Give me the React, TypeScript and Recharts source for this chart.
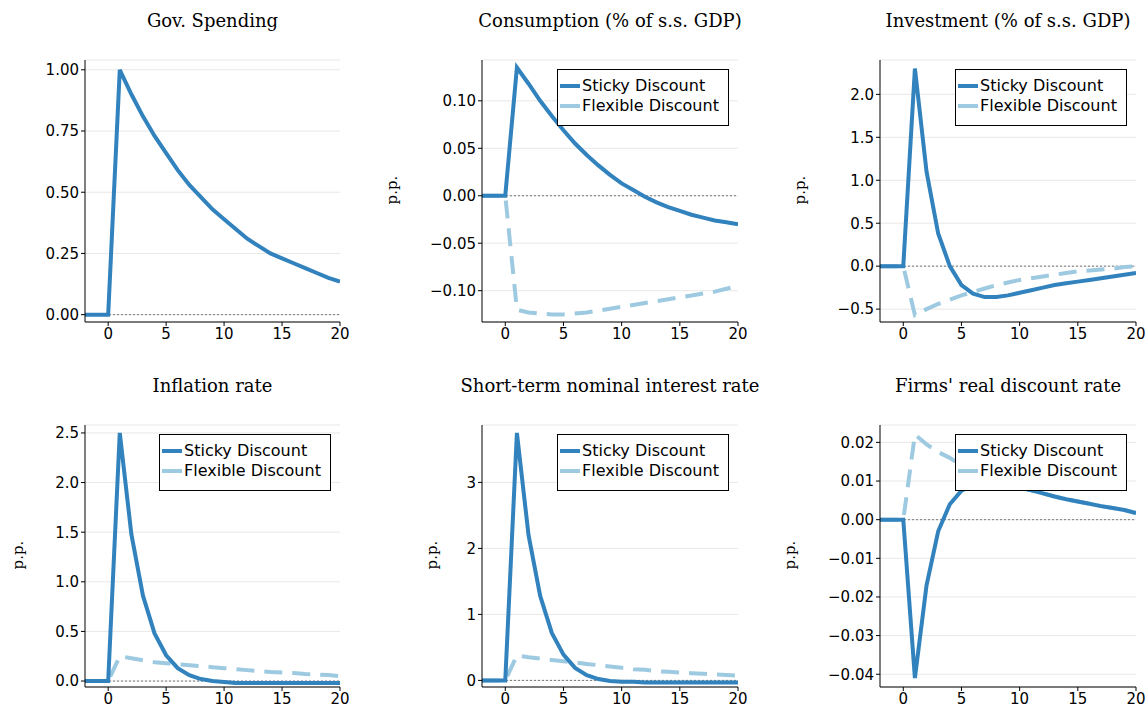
import React from "react";
import { LineChart, Line, XAxis, YAxis, CartesianGrid, ReferenceLine } from "recharts";

const periods = [-2, -1, 0, 1, 2, 3, 4, 5, 6, 7, 8, 9, 10, 11, 12, 13, 14, 15, 16, 17, 18, 19, 20];

const govSticky = [0, 0, 0, 1, 0.9, 0.81, 0.73, 0.66, 0.59, 0.53, 0.48, 0.43, 0.39, 0.35, 0.31, 0.28, 0.25, 0.23, 0.21, 0.19, 0.17, 0.15, 0.135];

const consSticky = [0, 0, 0, 0.135, 0.118, 0.1, 0.084, 0.069, 0.055, 0.043, 0.032, 0.022, 0.013, 0.006, -0.001, -0.007, -0.012, -0.016, -0.02, -0.023, -0.026, -0.028, -0.03];
const consFlex = [0, 0, 0, -0.12, -0.123, -0.124, -0.125, -0.125, -0.124, -0.123, -0.121, -0.119, -0.117, -0.115, -0.113, -0.111, -0.109, -0.107, -0.105, -0.103, -0.101, -0.098, -0.095];

const invSticky = [0, 0, 0, 2.3, 1.1, 0.38, 0.0, -0.22, -0.32, -0.36, -0.36, -0.34, -0.31, -0.28, -0.25, -0.22, -0.2, -0.18, -0.16, -0.14, -0.12, -0.1, -0.08];
const invFlex = [0, 0, 0, -0.57, -0.5, -0.44, -0.39, -0.34, -0.3, -0.26, -0.22, -0.19, -0.16, -0.14, -0.12, -0.1, -0.08, -0.06, -0.05, -0.04, -0.03, -0.01, 0.0];

const inflSticky = [0, 0, 0, 2.5, 1.48, 0.86, 0.48, 0.26, 0.13, 0.06, 0.02, 0, -0.01, -0.02, -0.02, -0.02, -0.02, -0.02, -0.02, -0.02, -0.02, -0.02, -0.02];
const inflFlex = [0, 0, 0, 0.25, 0.23, 0.21, 0.19, 0.18, 0.17, 0.16, 0.15, 0.14, 0.13, 0.12, 0.11, 0.1, 0.09, 0.085, 0.08, 0.07, 0.065, 0.06, 0.05];

const rateSticky = [0, 0, 0, 3.75, 2.2, 1.28, 0.72, 0.39, 0.19, 0.08, 0.02, -0.01, -0.02, -0.02, -0.03, -0.03, -0.03, -0.03, -0.03, -0.03, -0.03, -0.03, -0.03];
const rateFlex = [0, 0, 0, 0.38, 0.35, 0.33, 0.31, 0.29, 0.27, 0.25, 0.23, 0.21, 0.19, 0.17, 0.16, 0.14, 0.13, 0.12, 0.11, 0.1, 0.09, 0.08, 0.07];

const firmSticky = [0, 0, 0, -0.041, -0.017, -0.003, 0.004, 0.0075, 0.009, 0.0095, 0.0092, 0.0088, 0.0083, 0.0076, 0.0068, 0.006, 0.0053, 0.0047, 0.0041, 0.0035, 0.003, 0.0025, 0.0017];
const firmFlex = [0, 0, 0, 0.022, 0.0195, 0.0175, 0.016, 0.014, 0.0125, 0.011, 0.0098, 0.0088, 0.0083, 0.0076, 0.0068, 0.006, 0.0053, 0.0047, 0.0041, 0.0035, 0.003, 0.0025, 0.0017];

const xTicks = [0, 5, 10, 15, 20];
const STICKY = "#3182bd";
const FLEX = "#9ecae1";

type PanelProps = {
  title: string;
  sticky: number[];
  flex?: number[];
  domain: [number, number];
  ticks: number[];
  fmt: (v: number) => string;
  plotLeft: number;
  plotRight: number;
  plotTop: number;
  plotBottom: number;
  labelX?: number;
};

const Panel = ({ title, sticky, flex, domain, ticks, fmt, plotLeft, plotRight, plotTop, plotBottom, labelX }: PanelProps) => {
  const data = periods.map((p, i) => ({ t: p, sticky: sticky[i], flex: flex ? flex[i] : undefined }));
  const yw = 80;
  const left = plotLeft - yw;
  const top = plotTop - 10;
  const width = plotRight - plotLeft + yw + 12;
  const height = plotBottom - plotTop + 10 + 32;
  const tickStyle = { fill: "#000", fontSize: 15, fontFamily: "DejaVu Sans" };
  return (
    <>
      <div style={{ position: "absolute", left: plotLeft - 40, width: plotRight - plotLeft + 80, top: plotTop - 50, textAlign: "center", fontFamily: "DejaVu Serif", fontSize: 18 }}>
        {title}
      </div>
      {labelX !== undefined && (
        <div style={{ position: "absolute", left: labelX - 25, top: (plotTop + plotBottom) / 2 - 10, width: 50, textAlign: "center", transform: "rotate(-90deg)", fontFamily: "DejaVu Serif", fontSize: 15 }}>
          p.p.
        </div>
      )}
      <div style={{ position: "absolute", left, top }}>
        <LineChart width={width} height={height} data={data} margin={{ top: 10, right: 12, left: 0, bottom: 0 }}>
          <CartesianGrid vertical={false} stroke="#e8e8e8" />
          <XAxis dataKey="t" type="number" domain={[-2, 20]} ticks={xTicks} tick={tickStyle} stroke="#000" tickSize={4} height={32} allowDataOverflow />
          <YAxis domain={domain} ticks={ticks} tickFormatter={fmt} tick={tickStyle} stroke="#000" tickSize={4} width={yw} allowDataOverflow />
          <ReferenceLine y={0} stroke="#777" strokeDasharray="2 2" />
          {flex && (
            <Line dataKey="flex" stroke={FLEX} strokeWidth={4} strokeDasharray="18 10" dot={false} isAnimationActive={false} type="linear" />
          )}
          <Line dataKey="sticky" stroke={STICKY} strokeWidth={4} dot={false} isAnimationActive={false} type="linear" />
        </LineChart>
      </div>
      {flex && (
        <div style={{ position: "absolute", left: plotRight - 181, top: plotTop + 9, width: 172, height: 57, border: "1px solid #000", background: "#fff", fontFamily: "DejaVu Sans", fontSize: 16, boxSizing: "border-box" }}>
          <div style={{ position: "absolute", left: 2, top: 6, display: "flex", alignItems: "center" }}>
            <span style={{ display: "inline-block", width: 20, height: 4, background: STICKY, marginRight: 2 }} />Sticky Discount
          </div>
          <div style={{ position: "absolute", left: 2, top: 26, display: "flex", alignItems: "center" }}>
            <span style={{ display: "inline-block", width: 20, height: 4, background: FLEX, marginRight: 2 }} />Flexible Discount
          </div>
        </div>
      )}
    </>
  );
};

const f2 = (v: number) => v.toFixed(2).replace("-", "\u2212");
const f1 = (v: number) => v.toFixed(1).replace("-", "\u2212");
const f0 = (v: number) => v.toFixed(0);

export default function App() {
  return (
    <div style={{ position: "absolute", left: 0, top: 0, width: 1148, height: 715, background: "#fff", overflow: "hidden" }}>
      <Panel title="Gov. Spending" sticky={govSticky} domain={[-0.03, 1.04]} ticks={[0, 0.25, 0.5, 0.75, 1]} fmt={f2}
        plotLeft={85} plotRight={340} plotTop={60} plotBottom={322} />
      <Panel title="Consumption (% of s.s. GDP)" sticky={consSticky} flex={consFlex} domain={[-0.133, 0.143]} ticks={[-0.1, -0.05, 0, 0.05, 0.1]} fmt={f2}
        plotLeft={482} plotRight={738} plotTop={60} plotBottom={322} labelX={392} />
      <Panel title="Investment (% of s.s. GDP)" sticky={invSticky} flex={invFlex} domain={[-0.65, 2.4]} ticks={[-0.5, 0, 0.5, 1, 1.5, 2]} fmt={f1}
        plotLeft={880} plotRight={1136} plotTop={60} plotBottom={322} labelX={800} />
      <Panel title="Inflation rate" sticky={inflSticky} flex={inflFlex} domain={[-0.06, 2.58]} ticks={[0, 0.5, 1, 1.5, 2, 2.5]} fmt={f1}
        plotLeft={85} plotRight={340} plotTop={425} plotBottom={687} labelX={18} />
      <Panel title="Short-term nominal interest rate" sticky={rateSticky} flex={rateFlex} domain={[-0.1, 3.87]} ticks={[0, 1, 2, 3]} fmt={f0}
        plotLeft={482} plotRight={738} plotTop={425} plotBottom={687} labelX={432} />
      <Panel title="Firms' real discount rate" sticky={firmSticky} flex={firmFlex} domain={[-0.0433, 0.0245]} ticks={[-0.04, -0.03, -0.02, -0.01, 0, 0.01, 0.02]} fmt={f2}
        plotLeft={880} plotRight={1136} plotTop={425} plotBottom={687} labelX={790} />
    </div>
  );
}
